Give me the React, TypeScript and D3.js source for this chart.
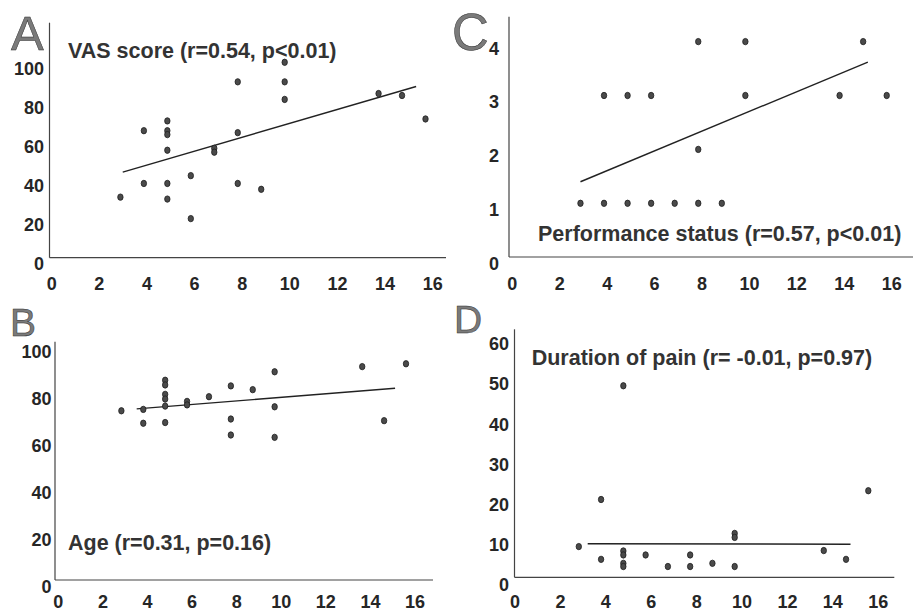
import React from 'react';
import * as d3 from 'd3';

// x for every panel: shared x value (0-16)
const xTicks = [0, 2, 4, 6, 8, 10, 12, 14, 16];

// A: VAS score
const vasPoints: [number, number][] = [
  [3, 31], [4, 65], [4, 38], [5, 70], [5, 65], [5, 63], [5, 55], [5, 38], [5, 30],
  [6, 42], [6, 20], [7, 56], [7, 54], [8, 90], [8, 64], [8, 38], [9, 35],
  [10, 100], [10, 90], [10, 81], [14, 84], [15, 83], [16, 71],
];
const vasFit: [number, number][] = [[3.1, 43.8], [15.6, 87.6]];
const vasTicks = [0, 20, 40, 60, 80, 100];

// B: Age
const agePoints: [number, number][] = [
  [3, 72], [4, 72.6], [4, 66.7], [5, 85], [5, 83], [5, 79], [5, 77], [5, 74], [5, 67],
  [6, 76], [6, 74.5], [7, 78], [8, 82.6], [8, 68.5], [8, 61.7], [9, 81],
  [10, 88.6], [10, 73.7], [10, 60.7], [14, 90.8], [15, 67.8], [16, 92],
];
const ageFit: [number, number][] = [[3.7, 72.8], [15.5, 81.6]];
const ageTicks = [0, 20, 40, 60, 80, 100];

// C: Performance status
const psPoints: [number, number][] = [
  [8, 4], [10, 4], [15, 4],
  [4, 3], [5, 3], [6, 3], [10, 3], [14, 3], [16, 3],
  [8, 2],
  [3, 1], [4, 1], [5, 1], [6, 1], [7, 1], [8, 1], [9, 1],
];
const psFit: [number, number][] = [[3, 1.4], [15.2, 3.62]];
const psTicks = [0, 1, 2, 3, 4];

// D: Duration of pain
const painPoints: [number, number][] = [
  [3, 7.7], [4, 19.5], [4, 4.5], [5, 48], [5, 6.6], [5, 5.6], [5, 3.5], [5, 2.7],
  [6, 5.6], [7, 2.7], [8, 5.6], [8, 2.7], [9, 3.5], [10, 11], [10, 10], [10, 2.7],
  [14, 6.7], [15, 4.5], [16, 21.7],
];
const painFit: [number, number][] = [[3.4, 8.4], [15.2, 8.3]];
const painTicks = [0, 10, 20, 30, 40, 50, 60];

const panels = [
  {
    letter: 'A', title: 'VAS score (r=0.54, p<0.01)', points: vasPoints, fit: vasFit, yTicks: vasTicks,
    axisX: 49.5, axisTop: 22.7, axisBottom: 257.7, axisRight: 446,
    x0: 50, x16: 425.5, yZero: 257.7, yTop: 62.3,
    labX0: 51.7, labX16: 432.7, labY0: 263.3, labYTop: 68.3, yLabRight: 44, xLabY: 283.3,
    titleX: 68, titleY: 58.3, letterX: 11, letterY: 50, letterSize: 49,
  },
  {
    letter: 'C', title: 'Performance status (r=0.57, p<0.01)', points: psPoints, fit: psFit, yTicks: psTicks,
    axisX: 509, axisTop: 16.7, axisBottom: 257, axisRight: 913,
    x0: 509.8, x16: 886.7, yZero: 257.2, yTop: 41.6,
    labX0: 512.3, labX16: 891.7, labY0: 263.3, labYTop: 48.3, yLabRight: 499, xLabY: 283.3,
    titleX: 538, titleY: 240.5, letterX: 452, letterY: 50, letterSize: 51,
  },
  {
    letter: 'B', title: 'Age (r=0.31, p=0.16)', points: agePoints, fit: ageFit, yTicks: ageTicks,
    axisX: 55, axisTop: 341.7, axisBottom: 580, axisRight: 433,
    x0: 55.7, x16: 406, yZero: 580, yTop: 345,
    labX0: 58.3, labX16: 415, labY0: 586.7, labYTop: 351.7, yLabRight: 51.5, xLabY: 601.5,
    titleX: 68, titleY: 550, letterX: 10, letterY: 336, letterSize: 39,
  },
  {
    letter: 'D', title: 'Duration of pain (r= -0.01, p=0.97)', points: painPoints, fit: painFit, yTicks: painTicks,
    axisX: 514.5, axisTop: 329.3, axisBottom: 577.3, axisRight: 894.3,
    x0: 512, x16: 868.3, yZero: 577.3, yTop: 337.9,
    labX0: 515, labX16: 878.3, labY0: 585, labYTop: 344, yLabRight: 509, xLabY: 601.5,
    titleX: 531.7, titleY: 365, letterX: 454, letterY: 333.3, letterSize: 39,
  },
];

const FONT = '"Liberation Sans", Arial, Helvetica, sans-serif';

const Panel = ({ p }: { p: typeof panels[number] }) => {
  const yMax = p.yTicks[p.yTicks.length - 1];
  const x = d3.scaleLinear().domain([0, 16]).range([p.x0, p.x16]);
  const y = d3.scaleLinear().domain([0, yMax]).range([p.yZero, p.yTop]);
  // tick labels sit slightly off the data grid in the original
  const xLab = d3.scaleLinear().domain([0, 16]).range([p.labX0, p.labX16]);
  const yLab = d3.scaleLinear().domain([0, yMax]).range([p.labY0, p.labYTop]);
  const line = d3.line<[number, number]>().x(d => x(d[0])).y(d => y(d[1]));

  return (
    <g>
      <text x={p.letterX} y={p.letterY} fontFamily={FONT} fontSize={p.letterSize}
        fill="#7a7a7a" stroke="#2a2a2a" strokeWidth={0.5}>{p.letter}</text>

      <line x1={p.axisX} x2={p.axisX} y1={p.axisTop} y2={p.axisBottom} stroke="#444" strokeWidth={1.2} />
      <line x1={p.axisX} x2={p.axisRight} y1={p.axisBottom} y2={p.axisBottom} stroke="#444" strokeWidth={1.2} />

      {p.yTicks.map(t => (
        <text key={'y' + t} x={p.yLabRight} y={yLab(t)} dy="0.35em" textAnchor="end"
          fontFamily={FONT} fontWeight="bold" fontSize={18} fill="#262626">{t}</text>
      ))}
      {xTicks.map(t => (
        <text key={'x' + t} x={xLab(t)} y={p.xLabY} dy="0.35em" textAnchor="middle"
          fontFamily={FONT} fontWeight="bold" fontSize={18} fill="#262626">{t}</text>
      ))}

      <path d={line(p.fit) || ''} fill="none" stroke="#222" strokeWidth={1.4} />

      {p.points.map((d, i) => (
        <ellipse key={i} cx={x(d[0])} cy={y(d[1])} rx={2.7} ry={3.2}
          fill="#4a4a4a" stroke="#1e1e1e" strokeWidth={0.8} />
      ))}

      <text x={p.titleX} y={p.titleY} fontFamily={FONT} fontWeight="bold" fontSize={21.5}
        fill="#333">{p.title}</text>
    </g>
  );
};

export default function App() {
  return (
    <svg width={915} height={612} style={{ position: 'absolute', left: 0, top: 0, background: '#fff' }}>
      <rect width={915} height={612} fill="#fff" />
      {panels.map(p => <Panel key={p.letter} p={p} />)}
    </svg>
  );
}
